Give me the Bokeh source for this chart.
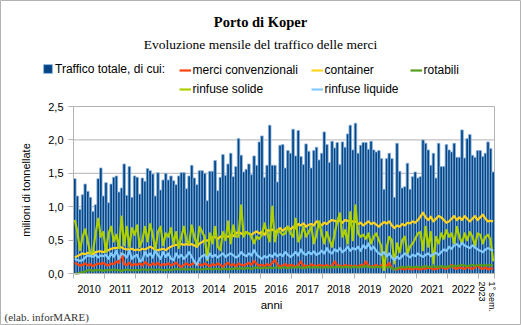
import math
from bokeh.plotting import figure
from bokeh.models import (Range1d, FixedTicker, Label, Legend, LegendItem)
from bokeh.embed import file_html
from bokeh.resources import INLINE

# ---------------- data (million tonnes, monthly Jan 2010 - Jun 2023) ----------------
years = ["2010", "2011", "2012", "2013", "2014", "2015", "2016",
         "2017", "2018", "2019", "2020", "2021", "2022"]
last_label = "1° sem.\n2023"

totale = [
    1.42, 1.16, 0.96, 1.18, 1.34, 1.23, 1.14, 0.93, 1.03, 1.42, 1.58, 1.16,
    1.36, 1.06, 1.34, 1.44, 1.46, 1.22, 1.28, 1.64, 1.17, 1.60, 1.14, 1.46,
    1.44, 1.19, 1.43, 1.38, 1.57, 1.54, 1.49, 1.16, 1.51, 1.25, 1.40, 1.50,
    1.40, 1.46, 1.39, 1.33, 1.46, 1.51, 1.51, 1.27, 1.46, 1.62, 1.43, 1.33,
    1.54, 1.54, 1.50, 1.09, 1.53, 1.53, 1.69, 1.24, 1.44, 1.78, 1.47, 1.64,
    1.80, 1.45, 1.60, 2.02, 1.77, 1.52, 1.56, 1.64, 1.48, 1.76, 1.62, 1.97,
    2.06, 1.44, 1.62, 2.22, 1.62, 1.62, 1.37, 1.92, 1.93, 1.58, 1.84, 1.80,
    2.16, 1.76, 2.14, 1.75, 1.63, 1.94, 1.83, 1.58, 1.84, 1.89, 1.70, 1.80,
    2.12, 1.93, 1.66, 1.98, 1.88, 1.96, 1.63, 1.97, 1.89, 2.09, 2.22, 1.85,
    2.25, 1.80, 1.92, 1.96, 1.96, 1.86, 1.98, 1.85, 1.82, 1.84, 1.72, 1.26,
    1.72, 1.80, 1.72, 1.14, 1.95, 1.53, 1.28, 1.30, 1.65, 1.26, 1.45, 1.52,
    1.43, 1.45, 2.00, 1.95, 1.85, 1.62, 1.80, 1.43, 1.95, 1.60, 1.60, 1.93,
    1.85, 1.82, 1.95, 1.74, 1.74, 2.15, 1.73, 2.02, 2.08, 1.77, 1.74, 1.84,
    1.84, 1.75, 1.80, 1.97, 1.87, 1.52,
]

merci_conv = [
    0.16, 0.14, 0.12, 0.13, 0.15, 0.12, 0.14, 0.11, 0.13, 0.15, 0.14, 0.16,
    0.13, 0.12, 0.15, 0.14, 0.18, 0.16, 0.30, 0.14, 0.13, 0.16, 0.12, 0.14,
    0.13, 0.15, 0.12, 0.17, 0.14, 0.12, 0.15, 0.13, 0.16, 0.12, 0.14, 0.13,
    0.15, 0.12, 0.14, 0.16, 0.12, 0.10, 0.13, 0.15, 0.12, 0.14, 0.16, 0.13,
    0.14, 0.12, 0.15, 0.13, 0.11, 0.14, 0.12, 0.15, 0.13, 0.10, 0.14, 0.16,
    0.12, 0.14, 0.11, 0.15, 0.13, 0.12, 0.14, 0.16, 0.13, 0.19, 0.14, 0.12,
    0.13, 0.11, 0.14, 0.12, 0.16, 0.20, 0.13, 0.10, 0.12, 0.14, 0.11, 0.13,
    0.12, 0.10, 0.13, 0.18, 0.11, 0.12, 0.10, 0.14, 0.12, 0.11, 0.13, 0.12,
    0.11, 0.13, 0.10, 0.12, 0.18, 0.11, 0.12, 0.10, 0.13, 0.11, 0.12, 0.10,
    0.12, 0.10, 0.13, 0.11, 0.18, 0.12, 0.10, 0.11, 0.13, 0.10, 0.12, 0.18,
    0.10, 0.16, 0.08, 0.07, 0.06, 0.08, 0.07, 0.06, 0.08, 0.07, 0.06, 0.08,
    0.07, 0.06, 0.08, 0.07, 0.09, 0.08, 0.06, 0.07, 0.08, 0.10, 0.08, 0.07,
    0.09, 0.13, 0.08, 0.07, 0.09, 0.08, 0.07, 0.10, 0.08, 0.07, 0.09, 0.12,
    0.08, 0.07, 0.09, 0.06, 0.08, 0.07,
]

container = [
    0.24, 0.26, 0.28, 0.30, 0.29, 0.31, 0.30, 0.29, 0.32, 0.33, 0.33, 0.32,
    0.34, 0.35, 0.37, 0.38, 0.38, 0.40, 0.39, 0.37, 0.36, 0.36, 0.37, 0.35,
    0.36, 0.35, 0.37, 0.36, 0.38, 0.40, 0.38, 0.35, 0.35, 0.36, 0.37, 0.35,
    0.38, 0.40, 0.42, 0.43, 0.43, 0.44, 0.43, 0.44, 0.43, 0.44, 0.42, 0.40,
    0.45, 0.47, 0.50, 0.49, 0.52, 0.54, 0.55, 0.52, 0.55, 0.57, 0.56, 0.55,
    0.58, 0.56, 0.60, 0.62, 0.60, 0.58, 0.62, 0.60, 0.58, 0.61, 0.63, 0.60,
    0.62, 0.58, 0.65, 0.64, 0.66, 0.62, 0.65, 0.68, 0.64, 0.67, 0.70, 0.66,
    0.70, 0.68, 0.74, 0.72, 0.75, 0.70, 0.73, 0.74, 0.72, 0.78, 0.76, 0.72,
    0.76, 0.74, 0.78, 0.80, 0.79, 0.77, 0.80, 0.76, 0.80, 0.79, 0.77, 0.78,
    0.78, 0.74, 0.76, 0.72, 0.75, 0.78, 0.74, 0.76, 0.73, 0.70, 0.74, 0.77,
    0.75, 0.78, 0.72, 0.68, 0.72, 0.70, 0.74, 0.72, 0.76, 0.75, 0.78, 0.76,
    0.80, 0.85, 0.91, 0.84, 0.80, 0.85, 0.78, 0.82, 0.86, 0.84, 0.80, 0.76,
    0.78, 0.82, 0.86, 0.80, 0.84, 0.80, 0.86, 0.82, 0.78, 0.82, 0.86, 0.80,
    0.84, 0.88, 0.82, 0.78, 0.79, 0.78,
]

rotabili = [
    0.00, 0.00, 0.01, 0.02, 0.03, 0.05, 0.05, 0.04, 0.05, 0.05, 0.05, 0.04,
    0.05, 0.05, 0.05, 0.06, 0.05, 0.05, 0.04, 0.05, 0.06, 0.05, 0.05, 0.05,
    0.05, 0.05, 0.06, 0.06, 0.05, 0.06, 0.06, 0.05, 0.06, 0.06, 0.05, 0.05,
    0.06, 0.05, 0.06, 0.07, 0.06, 0.06, 0.07, 0.06, 0.06, 0.07, 0.06, 0.06,
    0.06, 0.06, 0.07, 0.07, 0.07, 0.06, 0.07, 0.07, 0.06, 0.07, 0.07, 0.06,
    0.07, 0.07, 0.08, 0.07, 0.08, 0.07, 0.08, 0.08, 0.07, 0.08, 0.09, 0.08,
    0.08, 0.09, 0.08, 0.09, 0.08, 0.09, 0.09, 0.08, 0.09, 0.09, 0.08, 0.09,
    0.09, 0.09, 0.10, 0.09, 0.08, 0.09, 0.10, 0.09, 0.09, 0.10, 0.09, 0.09,
    0.09, 0.10, 0.09, 0.10, 0.09, 0.10, 0.10, 0.09, 0.10, 0.10, 0.09, 0.10,
    0.10, 0.09, 0.10, 0.10, 0.11, 0.10, 0.10, 0.09, 0.10, 0.10, 0.09, 0.09,
    0.09, 0.10, 0.08, 0.06, 0.08, 0.09, 0.10, 0.09, 0.10, 0.10, 0.09, 0.10,
    0.10, 0.09, 0.10, 0.11, 0.10, 0.10, 0.11, 0.10, 0.10, 0.11, 0.10, 0.10,
    0.11, 0.10, 0.12, 0.11, 0.12, 0.13, 0.12, 0.11, 0.12, 0.13, 0.12, 0.12,
    0.13, 0.12, 0.13, 0.12, 0.13, 0.12,
]

rinfuse_solide = [
    0.80, 0.62, 0.35, 0.55, 0.66, 0.48, 0.30, 0.32, 0.60, 0.82, 0.55, 0.62,
    0.32, 0.60, 0.70, 0.48, 0.58, 0.38, 0.85, 0.42, 0.70, 0.40, 0.68, 0.58,
    0.72, 0.40, 0.50, 0.70, 0.48, 0.74, 0.58, 0.36, 0.62, 0.70, 0.42, 0.60,
    0.55, 0.68, 0.45, 0.62, 0.38, 0.55, 0.70, 0.48, 0.45, 0.72, 0.55, 0.42,
    0.70, 0.62, 0.55, 0.20, 0.60, 0.45, 0.70, 0.40, 0.35, 0.62, 0.50, 0.78,
    0.45, 0.72, 0.55, 0.55, 1.02, 0.55, 0.62, 0.60, 0.55, 0.45, 0.55, 0.52,
    0.58, 0.75, 0.60, 0.48, 1.00, 0.48, 0.65, 0.62, 0.58, 0.60, 0.70, 0.60,
    0.55, 0.82, 0.48, 0.55, 0.70, 0.55, 0.62, 0.70, 0.45, 0.58, 0.78, 0.60,
    0.45, 0.62, 0.50, 0.40, 0.60, 0.78, 0.90, 0.55, 0.65, 0.45, 0.92, 0.50,
    1.02, 0.60, 0.55, 0.58, 0.52, 0.60, 0.45, 0.55, 0.60, 0.50, 0.40, 0.05,
    0.38, 0.55, 0.50, 0.15, 0.45, 0.32, 0.50, 0.55, 0.30, 0.40, 0.45, 0.52,
    0.60, 0.62, 0.35, 0.70, 0.40, 0.62, 0.15, 0.55, 0.45, 0.60, 0.52, 0.65,
    0.55, 0.60, 0.45, 0.70, 0.55, 0.45, 0.60, 0.50, 0.62, 0.55, 0.42, 0.60,
    0.58, 0.45, 0.55, 0.58, 0.50, 0.18,
]

rinfuse_liquide = [
    0.22, 0.20, 0.19, 0.20, 0.24, 0.27, 0.26, 0.25, 0.28, 0.24, 0.27, 0.26,
    0.28, 0.22, 0.30, 0.25, 0.34, 0.22, 0.30, 0.28, 0.24, 0.34, 0.22, 0.26,
    0.28, 0.18, 0.20, 0.32, 0.26, 0.30, 0.24, 0.34, 0.28, 0.22, 0.32, 0.25,
    0.30, 0.22, 0.20, 0.30, 0.24, 0.28, 0.22, 0.26, 0.32, 0.25, 0.18, 0.13,
    0.22, 0.26, 0.28, 0.22, 0.30, 0.25, 0.28, 0.24, 0.27, 0.30, 0.25, 0.28,
    0.30, 0.27, 0.24, 0.26, 0.32, 0.28, 0.26, 0.30, 0.27, 0.35, 0.28, 0.25,
    0.22, 0.26, 0.24, 0.28, 0.25, 0.30, 0.26, 0.29, 0.26, 0.32, 0.28, 0.25,
    0.28, 0.32, 0.27, 0.36, 0.30, 0.28, 0.32, 0.29, 0.33, 0.28, 0.30, 0.34,
    0.30, 0.38, 0.32, 0.30, 0.36, 0.33, 0.38, 0.32, 0.35, 0.40, 0.34, 0.38,
    0.36, 0.40, 0.34, 0.42, 0.38, 0.45, 0.36, 0.40, 0.34, 0.30, 0.28, 0.32,
    0.26, 0.30, 0.24, 0.20, 0.25, 0.22, 0.26, 0.30, 0.27, 0.24, 0.28, 0.26,
    0.30, 0.27, 0.25, 0.28, 0.30, 0.26, 0.29, 0.31, 0.28, 0.32, 0.36, 0.34,
    0.40, 0.37, 0.42, 0.44, 0.40, 0.46, 0.42, 0.40, 0.38, 0.42, 0.39, 0.36,
    0.34, 0.32, 0.36, 0.38, 0.36, 0.34,
]

y_ticks = [0, 0.5, 1, 1.5, 2, 2.5]
y_tick_labels = ["0,0", "0,5", "1,0", "1,5", "2,0", "2,5"]

# ---------------- layout constants (page pixels) ----------------
W, H = 521, 325
FL, FR, FT, FB = 73, 494, 106, 273          # plot area edges on the page
N = len(totale)
XMAX = N
YMAX = 2.5
XS = (FR - FL) / XMAX
YS = (FB - FT) / YMAX


def dx(px):
    return (px - FL) / XS


def dy(py):
    return (FB - py) / YS


SANS = "Liberation Sans"
SERIF = "Liberation Serif"
GRID = "#b3b3b3"

# the frame covers the whole canvas; the ranges are widened so that the
# data area (0..N, 0..2.5) falls where the reference plot area is
p = figure(width=W, height=H, output_backend="svg", toolbar_location=None,
           x_range=Range1d(dx(0), dx(W)), y_range=Range1d(dy(H), dy(0)),
           min_border=0, min_border_left=0, min_border_right=0,
           min_border_top=0, min_border_bottom=0)
p.background_fill_color = "white"
p.border_fill_color = "white"
p.outline_line_color = GRID
p.outline_line_width = 1
p.xgrid.visible = False
p.ygrid.visible = False

xs = [i + 0.5 for i in range(N)]

# grid lines and plot-area border
p.segment(x0=[0] * len(y_ticks), x1=[XMAX] * len(y_ticks), y0=y_ticks, y1=y_ticks,
          line_color=GRID, line_width=1, level="underlay")
p.segment(x0=[XMAX], x1=[XMAX], y0=[0], y1=[YMAX], line_color=GRID, line_width=1,
          level="underlay")

bars = p.vbar(x=xs, top=totale, width=1.0, bottom=0,
              fill_color="#004586", line_color="#8fb5de", line_width=0.8)

series = [
    ("merci convenzionali", merci_conv, "#ff420e"),
    ("container", container, "#ffd320"),
    ("rotabili", rotabili, "#579d1c"),
    ("rinfuse solide", rinfuse_solide, "#aecf00"),
    ("rinfuse liquide", rinfuse_liquide, "#83caff"),
]
rends = {}
for name, vals, col in series:
    rends[name] = p.line(xs, vals, line_color=col, line_width=2.2, line_join="round")

# ---------------- axes (pinned to the plot-area edges) ----------------
ya = p.yaxis[0]
ya.fixed_location = 0
ya.bounds = (0, YMAX)
ya.ticker = FixedTicker(ticks=y_ticks)
ya.major_label_overrides = {t: s for t, s in zip(y_ticks, y_tick_labels)}
ya.axis_line_color = GRID
ya.major_tick_line_color = GRID
ya.major_tick_out = 5
ya.major_tick_in = 0
ya.minor_tick_line_color = None
ya.major_label_standoff = 5
ya.major_label_text_font = SANS
ya.major_label_text_font_size = "11px"
ya.major_label_text_color = "black"

xa = p.xaxis[0]
xa.fixed_location = 0
xa.bounds = (0, XMAX)
centers = [12 * i + 6 for i in range(len(years))]
bounds = [12 * i for i in range(len(years) + 1)] + [XMAX]
xa.ticker = FixedTicker(ticks=centers, minor_ticks=bounds)
xa.major_label_overrides = {c: y for c, y in zip(centers, years)}
xa.axis_line_color = GRID
xa.major_tick_line_color = None
xa.major_tick_out = 0
xa.major_tick_in = 0
xa.minor_tick_line_color = GRID
xa.minor_tick_out = 5
xa.minor_tick_in = 0
xa.major_label_standoff = 6
xa.major_label_text_font = SANS
xa.major_label_text_font_size = "10.5px"
xa.major_label_text_color = "black"

# ---------------- texts ----------------
p.add_layout(Label(x=dx(260), y=dy(21), text="Porto di Koper", text_font=SERIF,
                   text_font_style="bold", text_font_size="14.5px",
                   text_align="center", text_baseline="middle", text_color="black"))
p.add_layout(Label(x=dx(260), y=dy(44), text="Evoluzione mensile del traffico delle merci",
                   text_font=SERIF, text_font_size="13.5px",
                   text_align="center", text_baseline="middle", text_color="black"))
p.add_layout(Label(x=dx(25), y=YMAX / 2, text="milioni di tonnellate", angle=math.pi / 2,
                   text_font=SANS, text_font_size="11px",
                   text_align="center", text_baseline="middle", text_color="black"))
p.add_layout(Label(x=dx(271), y=dy(304), text="anni", text_font=SANS, text_font_size="11.5px",
                   text_align="center", text_baseline="middle", text_color="black"))
p.add_layout(Label(x=dx(4), y=dy(316), text="(elab. inforMARE)", text_font=SERIF,
                   text_font_size="11px", text_align="left", text_baseline="middle",
                   text_color="#333333"))
p.add_layout(Label(x=dx(486), y=dy(281), text=last_label, angle=-math.pi / 2,
                   text_font=SANS, text_font_size="9px", text_line_height=1.0,
                   text_align="left", text_baseline="middle", text_color="black"))

# ---------------- legend (one box per entry, placed like the reference) ----------------
def add_legend(label, rend, left_px, center_py, gw=12, gh=14):
    lg = Legend(items=[LegendItem(label=label, renderers=[rend])],
                location=(left_px, (H - center_py) - gh / 2),
                orientation="horizontal", padding=0, margin=0, spacing=0,
                glyph_width=gw, glyph_height=gh, label_height=gh, label_width=10,
                label_standoff=2, border_line_alpha=0, background_fill_alpha=0,
                label_text_font=SANS, label_text_font_size="12px",
                label_text_color="black")
    p.add_layout(lg)


add_legend("Traffico totale, di cui:", bars, 42, 70, gw=11, gh=11)
add_legend("merci convenzionali", rends["merci convenzionali"], 178.5, 70)
add_legend("container", rends["container"], 310.5, 70)
add_legend("rotabili", rends["rotabili"], 409.5, 70)
add_legend("rinfuse solide", rends["rinfuse solide"], 178.5, 88.5)
add_legend("rinfuse liquide", rends["rinfuse liquide"], 310.5, 88.5)

open("out.html", "w").write(file_html(p, INLINE))
